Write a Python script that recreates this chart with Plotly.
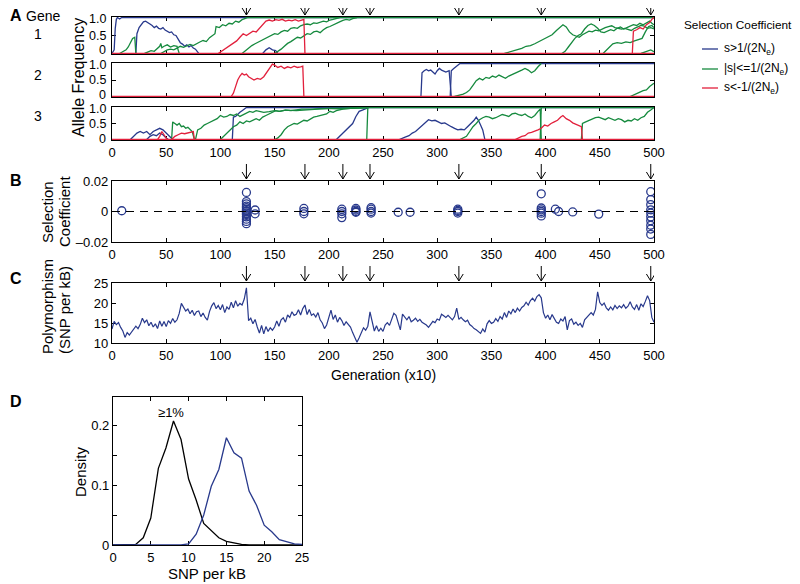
import plotly.graph_objects as go

# colours / fonts
BLUE = 'rgb(40,57,140)'
GREEN = 'rgb(22,138,62)'
RED = 'rgb(226,32,60)'
FONT = 'Liberation Sans, Arial, sans-serif'
# the page body keeps its default 8px margin, so the figure is drawn 8px smaller
# and all positions below are given in window pixels
OFF = 8
W, H = 800 - OFF, 584 - OFF

# ---- panel A: allele frequency trajectories, (generation, frequency) pairs ----
gene1_blue = [
    [(0, 0), (2, 0.1), (3, 0.7), (4, 0.95), (5, 1.0), (7, 0.96), (9, 1.0), (500, 1.0)],
    [(22, 0), (23, 0.55), (25, 0.72), (27, 0.8), (29, 0.88), (31, 0.9), (33, 0.85), (35, 0.82),
     (37, 0.78), (39, 0.72), (41, 0.76), (43, 0.7), (45, 0.68), (47, 0.72), (49, 0.65), (51, 0.62),
     (53, 0.58), (55, 0.6), (57, 0.52), (59, 0.5), (61, 0.4), (63, 0.3), (65, 0.26), (67, 0.2),
     (69, 0.24), (71, 0.18), (73, 0.22), (75, 0.15), (77, 0.12), (79, 0.05), (80, 0)],
    [(139, 0), (142, 0.1), (145, 0.16), (148, 0.1), (151, 0.08), (153, 0)],
]
gene1_green = [
    [(7, 0), (9, 0.03), (11, 0.06), (13, 0.1), (15, 0.18), (17, 0.32), (19, 0.42), (21, 0.45), (22, 0)],
    [(30, 0), (33, 0.05), (36, 0.08), (39, 0.06), (42, 0.15), (44, 0.2), (45, 0.28), (46, 0.16),
     (48, 0.2), (51, 0.24), (54, 0.18), (57, 0.22), (60, 0.2), (62, 0)],
    [(45, 0), (48, 0.06), (51, 0.1), (54, 0.12), (57, 0.1), (60, 0.15), (63, 0.2), (66, 0.17),
     (69, 0.22), (72, 0.25), (75, 0.22), (78, 0.28), (81, 0.32), (84, 0.36), (87, 0.33), (90, 0.44),
     (93, 0.5), (95, 0.55), (96, 0.75), (99, 0.72), (102, 0.8), (105, 0.77), (108, 0.84), (111, 0.82),
     (114, 0.9), (117, 0.87), (120, 0.94), (123, 0.97), (125, 1.0), (500, 1.0)],
    [(120, 0), (123, 0.08), (126, 0.15), (129, 0.22), (132, 0.27), (135, 0.32), (138, 0.36),
     (141, 0.42), (144, 0.46), (147, 0.52), (150, 0.55), (153, 0.53), (156, 0.6), (159, 0.64),
     (162, 0.62), (165, 0.7), (168, 0.72), (171, 0.7), (174, 0.77), (177, 0.8), (180, 0.82),
     (183, 0.8), (186, 0.85), (189, 0.84), (192, 0.88), (195, 0.9), (198, 0.88), (201, 0.93),
     (204, 0.95), (207, 0.97), (210, 1.0)],
    [(150, 0), (153, 0.05), (156, 0.12), (159, 0.2), (162, 0.28), (165, 0.33), (168, 0.4),
     (171, 0.45), (174, 0.43), (177, 0.5), (180, 0.55), (183, 0.53), (186, 0.6), (189, 0.62),
     (192, 0.58), (195, 0.66), (198, 0.72), (201, 0.75), (204, 0.8), (207, 0.84), (210, 0.88),
     (213, 0.92), (216, 0.95), (219, 0.93), (222, 0.97), (226, 1.0)],
    [(362, 0), (366, 0.03), (370, 0.06), (374, 0.1), (378, 0.14), (382, 0.2), (386, 0.22),
     (390, 0.27), (394, 0.33), (398, 0.4), (402, 0.46), (406, 0.52), (410, 0.64), (413, 0.72),
     (416, 0.8), (419, 0.74), (422, 0.6), (425, 0.52), (428, 0.48), (431, 0.45), (434, 0.52),
     (437, 0.58), (440, 0.62), (443, 0.6), (446, 0.65), (449, 0.63), (452, 0.68), (455, 0.72),
     (458, 0.75), (461, 0.77), (464, 0.72), (467, 0.7), (470, 0.68), (473, 0.7), (476, 0.66),
     (479, 0.64), (482, 0.7), (485, 0.73), (488, 0.78), (491, 0.76), (494, 0.7), (497, 0.72),
     (500, 0.68)],
    [(415, 0), (418, 0.06), (421, 0.18), (424, 0.3), (427, 0.42), (430, 0.5), (433, 0.55),
     (436, 0.68), (439, 0.78), (442, 0.82), (445, 0.78), (448, 0.7), (451, 0.6), (454, 0.58),
     (457, 0.62), (460, 0.66), (463, 0.63), (466, 0.7), (469, 0.74), (472, 0.68), (475, 0.72),
     (478, 0.76), (481, 0.8), (484, 0.78), (487, 0.84), (490, 0.8), (493, 0.86), (496, 0.9),
     (498, 0.84), (500, 0.8)],
    [(453, 0), (456, 0.1), (459, 0.2), (462, 0.27), (466, 0.3), (470, 0.28), (474, 0.32),
     (478, 0.3), (482, 0.35), (486, 0.38), (489, 0.42), (492, 0.6), (495, 0.75), (498, 0.78),
     (500, 0.72)],
    [(488, 0), (491, 0.04), (494, 0.06), (497, 0.1), (500, 0.05)],
]
gene1_red = [
    [(98, 0), (100, 0.04), (103, 0.12), (106, 0.18), (109, 0.24), (112, 0.3), (115, 0.35),
     (118, 0.45), (121, 0.55), (124, 0.5), (127, 0.56), (130, 0.62), (133, 0.6), (136, 0.7),
     (139, 0.78), (142, 0.9), (145, 0.93), (148, 0.9), (151, 0.94), (154, 0.92), (157, 0.95),
     (160, 0.9), (163, 0.93), (166, 0.91), (169, 0.94), (172, 0.9), (175, 0.93), (177, 0.95),
     (178, 0)],
    [(480, 0), (481, 0.62), (484, 0.66), (487, 0.72), (490, 0.68), (493, 0.8), (496, 0.86),
     (498, 0.95), (500, 1.0)],
    [(0, 0), (500, 0)],
]

gene2_blue = [
    [(285, 0), (286, 0.72), (288, 0.78), (290, 0.82), (292, 0.78), (294, 0.8), (296, 0.74),
     (298, 0.68), (300, 0.78), (302, 0.85), (304, 0.8), (306, 0.78), (308, 0.74), (311, 0.78),
     (313, 0)],
    [(312, 0), (313, 0.78), (315, 0.84), (317, 0.9), (319, 0.95), (321, 1.0), (500, 1.0)],
]
gene2_green = [
    [(316, 0), (320, 0.03), (324, 0.07), (327, 0.12), (330, 0.2), (333, 0.34), (336, 0.48),
     (339, 0.55), (342, 0.5), (345, 0.58), (348, 0.55), (351, 0.62), (354, 0.58), (357, 0.65),
     (360, 0.6), (363, 0.55), (366, 0.62), (369, 0.66), (372, 0.7), (375, 0.75), (378, 0.8),
     (381, 0.85), (384, 0.8), (387, 0.72), (390, 0.78), (393, 0.9), (396, 1.0)],
    [(478, 0), (482, 0.05), (486, 0.12), (490, 0.18), (493, 0.2), (496, 0.3), (499, 0.38),
     (500, 0.4)],
]
gene2_red = [
    [(110, 0), (112, 0.1), (114, 0.3), (116, 0.5), (118, 0.62), (120, 0.7), (122, 0.65),
     (124, 0.68), (126, 0.6), (128, 0.55), (131, 0.5), (134, 0.55), (137, 0.52), (140, 0.6),
     (143, 0.75), (146, 0.9), (148, 0.98), (150, 0.95), (153, 0.88), (156, 0.92), (159, 0.85),
     (162, 0.9), (165, 0.87), (168, 0.92), (171, 0.88), (174, 0.9), (176, 0.92), (177, 0)],
    [(0, 0), (500, 0)],
]

gene3_blue = [
    [(17, 0), (20, 0.1), (23, 0.2), (26, 0.25), (29, 0.2), (32, 0.25), (35, 0.15), (38, 0.25),
     (41, 0.3), (44, 0.35), (47, 0.3), (50, 0.2), (53, 0.1), (56, 0)],
    [(32, 0), (35, 0.1), (38, 0.15), (41, 0.12), (44, 0.2), (47, 0.15), (50, 0.05), (52, 0)],
    [(111, 0), (112, 0.7), (114, 0.72), (116, 0.8), (118, 0.85), (120, 0.9), (122, 0.95),
     (124, 1.0), (500, 1.0)],
    [(207, 0), (210, 0.1), (213, 0.2), (216, 0.3), (219, 0.42), (222, 0.5), (225, 0.72),
     (228, 0.88), (231, 0.92), (234, 0.96), (237, 1.0)],
    [(265, 0), (268, 0.05), (271, 0.08), (274, 0.12), (277, 0.2), (280, 0.25), (283, 0.35),
     (286, 0.45), (289, 0.55), (292, 0.62), (295, 0.58), (298, 0.6), (301, 0.55), (304, 0.5),
     (307, 0.52), (310, 0.45), (313, 0.4), (316, 0.35), (319, 0.3), (322, 0.32), (325, 0.3),
     (328, 0.4), (331, 0.5), (334, 0.6), (336, 0.7), (338, 0.6), (340, 0.45), (342, 0.3), (344, 0)],
]
gene3_green = [
    [(55, 0), (56, 0.55), (58, 0.5), (60, 0.45), (62, 0.5), (64, 0.4), (66, 0.42), (68, 0.35),
     (70, 0.38), (72, 0.3), (74, 0.25), (76, 0)],
    [(77, 0), (79, 0.3), (82, 0.35), (85, 0.45), (88, 0.5), (91, 0.55), (94, 0.6), (97, 0.65),
     (100, 0.75), (103, 0.7), (106, 0.72), (109, 0.78), (112, 0.75), (115, 0.8), (118, 0.72),
     (121, 0.78), (124, 0.82), (127, 0.88), (130, 0.85), (133, 0.9), (136, 0.88), (140, 0.85),
     (145, 0.87), (150, 0.9), (155, 0.88), (160, 0.92), (165, 0.9), (170, 0.93), (175, 0.95),
     (185, 0.95), (195, 0.97), (210, 0.96), (225, 0.98), (235, 0.98), (236, 1.0)],
    [(100, 0), (103, 0.1), (106, 0.2), (109, 0.3), (112, 0.4), (115, 0.45), (118, 0.55),
     (121, 0.5), (124, 0.58), (127, 0.55), (130, 0.6), (133, 0.65), (136, 0.6), (139, 0.7),
     (142, 0.75), (145, 0.8), (148, 0.85), (151, 0.9), (154, 0.88), (160, 0.92), (170, 0.9),
     (185, 0.94), (200, 0.97), (215, 0.98), (236, 1.0)],
    [(150, 0), (153, 0.05), (156, 0.15), (159, 0.3), (162, 0.4), (165, 0.45), (168, 0.5),
     (171, 0.48), (174, 0.55), (177, 0.6), (180, 0.58), (183, 0.65), (186, 0.7), (189, 0.72),
     (192, 0.75), (195, 0.78), (198, 0.8), (201, 0.88), (204, 0.85), (207, 0.9), (210, 0.92),
     (213, 0.95), (220, 0.97), (236, 1.0)],
    [(235, 0), (236, 1.0), (500, 1.0)],
    [(321, 0), (324, 0.05), (327, 0.1), (330, 0.25), (333, 0.4), (336, 0.5), (339, 0.62),
     (342, 0.68), (345, 0.72), (348, 0.7), (351, 0.65), (354, 0.68), (357, 0.72), (360, 0.78),
     (363, 0.75), (366, 0.72), (369, 0.8), (372, 0.82), (375, 0.78), (378, 0.75), (381, 0.8),
     (384, 0.72), (387, 0.68), (390, 0.75), (393, 0.88), (395, 0.95), (396, 0)],
    [(395, 0), (396, 1.0)],
    [(433, 0), (434, 0.5), (437, 0.55), (440, 0.6), (443, 0.65), (446, 0.68), (449, 0.7),
     (452, 0.65), (455, 0.62), (458, 0.68), (461, 0.65), (464, 0.6), (467, 0.65), (470, 0.62),
     (473, 0.55), (476, 0.6), (479, 0.58), (482, 0.65), (485, 0.6), (488, 0.68), (491, 0.72),
     (494, 0.85), (497, 0.92), (500, 1.0)],
]
gene3_red = [
    [(42, 0), (44, 0.1), (46, 0.25), (48, 0.15), (50, 0.05), (51, 0)],
    [(55, 0), (58, 0.1), (61, 0.15), (64, 0.2), (67, 0.18), (70, 0.2), (73, 0.22), (75, 0.25),
     (76, 0)],
    [(372, 0), (375, 0.05), (378, 0.1), (381, 0.12), (384, 0.2), (387, 0.22), (390, 0.25),
     (393, 0.3), (396, 0.35), (399, 0.45), (402, 0.42), (405, 0.5), (408, 0.55), (411, 0.6),
     (414, 0.7), (416, 0.75), (419, 0.65), (422, 0.6), (425, 0.52), (428, 0.48), (431, 0.45),
     (433, 0.4), (434, 0)],
    [(0, 0), (500, 0)],
]
freq_ticks = [0, 0.5, 1]
freq_labels = ['0', '0.5', '1.0']

# sweep arrows (generation)
arrow_gens = [124, 178, 213, 238, 320, 396, 497]

# ---- panel B: selection coefficients of fixed mutations ----
sel_gen = [9,
           124, 124, 124, 124, 124, 124, 124, 124, 124, 124, 124, 124, 124, 124,
           132, 132, 177, 177, 177, 212, 212, 212, 212, 225, 225, 225, 225,
           239, 239, 239, 239, 264, 275, 319, 319, 319, 319,
           396, 396, 396, 396, 396, 396, 409, 412, 425, 449,
           497, 497, 497, 497, 497, 497, 497, 497, 497, 497]
sel_coef = [0.0005,
            0.0125, 0.0065, 0.005, 0.0035, 0.0025, 0.0015, 0.0005, 0.0, -0.001, -0.002, -0.0035,
            -0.005, -0.0065, -0.008,
            0.001, -0.0015, 0.002, 0.0, -0.0015, 0.0015, 0.0, -0.0015, -0.004, 0.002, 0.001, 0.0,
            -0.0005, 0.0025, 0.0015, 0.0, -0.001, -0.0005, -0.0005, 0.0015, 0.0007, 0.0, -0.001,
            0.0116, 0.0023, 0.0011, 0.0, -0.0011, -0.0029, 0.0015, 0.0, -0.0003, -0.0017,
            0.013, 0.0078, 0.0045, 0.0011, -0.001, -0.0035, -0.006, -0.009, -0.0115, -0.015]

# ---- panel C: polymorphism (SNP per kB) every 2 generations (x10) ----
poly_gen = list(range(0, 501, 2))
poly_snp = [
    13.5, 15.4, 14.6, 15.1, 13.9, 13.0, 11.4, 12.6, 12.0, 12.8,
    13.3, 14.2, 13.6, 14.6, 16.2, 15.1, 15.8, 14.3, 15.2, 14.0,
    14.8, 13.6, 15.5, 14.2, 15.4, 14.1, 15.6, 14.9, 16.1, 15.2,
    15.8, 17.4, 19.9, 18.8, 18.0, 18.5, 17.3, 18.2, 16.9, 17.8,
    18.0, 16.6, 17.5, 16.4, 15.7, 17.9, 19.3, 20.1, 18.6, 19.4,
    18.3, 19.6, 17.6, 19.0, 18.4, 20.2, 18.8, 20.6, 19.2, 19.9,
    19.5, 21.0, 23.8, 15.6, 16.2, 14.8, 15.9, 14.0, 12.5, 14.4,
    12.3, 14.1, 12.9, 13.8, 13.2, 14.0, 15.5, 14.2, 15.8, 16.3,
    15.2, 17.0, 16.4, 17.8, 16.9, 17.2, 18.3, 17.0, 18.6, 19.5,
    17.1, 18.4, 16.9, 17.3, 16.5, 17.6, 15.8, 15.0, 13.6, 14.5,
    16.5, 18.2, 15.9, 17.0, 15.2, 16.4, 15.6, 14.4, 15.3, 14.5,
    14.0, 12.6, 11.4, 10.2, 11.3, 12.5, 13.8, 13.2, 14.2, 17.8,
    15.4, 13.0, 14.3, 12.9, 13.7, 12.9, 14.5, 15.1, 14.4, 16.2,
    17.4, 16.9, 14.8, 13.3, 17.2, 16.5, 15.8, 16.6, 15.3, 15.7,
    16.2, 15.4, 15.9, 15.2, 14.9, 14.5, 13.9, 14.7, 15.4, 15.1,
    16.0, 15.7, 17.2, 16.8, 16.4, 16.9, 16.2, 15.8, 16.6, 18.7,
    15.9, 16.4, 15.8, 15.3, 15.7, 14.6, 14.2, 13.6, 13.3, 12.9,
    12.4, 13.5, 12.7, 14.8, 15.6, 14.9, 15.2, 16.1, 15.4, 16.6,
    16.0, 17.6, 16.4, 18.0, 17.3, 18.5, 17.6, 18.7, 18.0, 18.9,
    19.3, 20.2, 19.5, 20.6, 21.2, 20.5, 21.6, 22.1, 21.3, 17.6,
    16.2, 17.0, 15.8, 17.1, 16.3, 15.2, 14.9, 16.0, 15.5, 16.6,
    13.3, 15.6, 16.0, 14.7, 15.2, 14.4, 14.9, 13.9, 15.8, 16.4,
    16.9, 17.6, 17.0, 18.4, 22.8, 20.1, 19.4, 20.0, 18.8, 18.2,
    19.0, 18.3, 19.4, 18.6, 19.3, 18.8, 19.6, 18.7, 19.2, 20.3,
    19.0, 18.4, 19.6, 18.2, 19.8, 19.1, 20.4, 21.8, 20.6, 16.4,
    15.2,
]

# ---- panel D: density of SNP per kB ----
dens_x = list(range(0, 26))
dens_common = [0, 0, 0, 0.001, 0.012, 0.045, 0.128, 0.162, 0.207, 0.176, 0.11, 0.075, 0.036,
               0.024, 0.012, 0.006, 0.003, 0.001, 0, 0, 0, 0, 0, 0, 0, 0]
dens_all = [0, 0, 0, 0, 0, 0, 0, 0, 0, 0, 0.002, 0.018, 0.05, 0.098, 0.126, 0.179, 0.154,
            0.145, 0.09, 0.066, 0.033, 0.022, 0.009, 0.005, 0.002, 0.001]


def pxx(x):
    return (x - OFF) / W


def pyy(y):
    return 1 - (y - OFF) / H


def add_paths(fig, paths, color, n):
    for path in paths:
        fig.add_trace(go.Scatter(x=[p[0] for p in path], y=[p[1] for p in path], mode='lines',
                                 xaxis='x%d' % n if n > 1 else 'x',
                                 yaxis='y%d' % n if n > 1 else 'y',
                                 line=dict(color=color, width=1.3),
                                 showlegend=False, hoverinfo='skip'))


def axis(dom, anchor, **kw):
    d = dict(domain=dom, anchor=anchor, showline=True, linecolor='black', linewidth=1.2,
             mirror='ticks', ticks='inside', ticklen=4, tickcolor='black', tickwidth=1,
             showgrid=False, zeroline=False, layer='below traces', automargin=False,
             tickfont=dict(family=FONT, size=13, color='black'))
    d.update(kw)
    return d


fig = go.Figure()

genes = [(gene1_blue, gene1_green, gene1_red),
         (gene2_blue, gene2_green, gene2_red),
         (gene3_blue, gene3_green, gene3_red)]
for i, (b, g, r) in enumerate(genes):
    add_paths(fig, b, BLUE, i + 1)
    add_paths(fig, g, GREEN, i + 1)
    add_paths(fig, r, RED, i + 1)

fig.add_trace(go.Scatter(x=sel_gen, y=sel_coef, mode='markers', xaxis='x4', yaxis='y4',
                         marker=dict(symbol='circle-open', size=8, color=BLUE,
                                     line=dict(width=1.3, color=BLUE)),
                         showlegend=False, hoverinfo='skip'))
fig.add_trace(go.Scatter(x=poly_gen, y=poly_snp, mode='lines', xaxis='x5', yaxis='y5',
                         line=dict(color=BLUE, width=1.2), showlegend=False, hoverinfo='skip'))
fig.add_trace(go.Scatter(x=dens_x, y=dens_common, mode='lines', xaxis='x6', yaxis='y6',
                         line=dict(color='black', width=1.3), showlegend=False, hoverinfo='skip'))
fig.add_trace(go.Scatter(x=dens_x, y=dens_all, mode='lines', xaxis='x6', yaxis='y6',
                         line=dict(color=BLUE, width=1.3), showlegend=False, hoverinfo='skip'))

xdom = [pxx(112), pxx(654)]
gen_ticks = list(range(0, 501, 50))
gene_rows = [(17, 54), (63, 97), (107, 140)]
# where the frequency tick labels sit (window pixels), squeezed like the original
gene_label_y = [(50.5, 35.5, 19), (95, 80, 65), (139, 124, 109)]
lay = {}
for i, (top, bot) in enumerate(gene_rows):
    n = '' if i == 0 else str(i + 1)
    lay['xaxis' + n] = axis(xdom, 'y' + n, range=[0, 500], tickvals=gen_ticks,
                            showticklabels=(i == 2))
    lay['yaxis' + n] = axis([pyy(bot), pyy(top)], 'x' + n, range=[-0.015, 1.015],
                            tickvals=freq_ticks, showticklabels=False)
lay['xaxis4'] = axis(xdom, 'y4', range=[0, 500], tickvals=gen_ticks)
lay['yaxis4'] = axis([pyy(242), pyy(181)], 'x4', range=[-0.02, 0.02],
                     tickvals=[-0.02, 0, 0.02], ticktext=['\u20130.02', '0', '0.02'])
lay['xaxis5'] = axis(xdom, 'y5', range=[0, 500], tickvals=gen_ticks)
lay['yaxis5'] = axis([pyy(343), pyy(283)], 'x5', range=[10, 25], tickvals=[10, 15, 20, 25])
lay['xaxis6'] = axis([pxx(113), pxx(302)], 'y6', range=[0, 25], tickvals=[0, 5, 10, 15, 20, 25])
lay['yaxis6'] = axis([pyy(545), pyy(397)], 'x6', range=[0, 0.247],
                     tickvals=[0, 0.05, 0.1, 0.15, 0.2], ticktext=['0', ' ', '0.1', ' ', '0.2'])

shapes = []
# zero line in B
shapes.append(dict(type='line', xref='x4 domain', yref='y4', x0=0, x1=1, y0=0, y1=0,
                   line=dict(color='black', width=1.2, dash='8px,6px')))
# sweep arrows above A, B and C
for tip, tail in [(15, 1), (179, 164), (281, 266)]:
    for g in arrow_gens:
        shapes.append(dict(type='path', xref='x', yref='paper',
                           path='M %g,%f L %g,%f M %g,%f L %g,%f L %g,%f' % (
                               g, pyy(max(tail, OFF)), g, pyy(tip), g - 4, pyy(tip - 7), g,
                               pyy(tip), g + 4, pyy(tip - 7)),
                           line=dict(color='black', width=1)))
# legend keys
for yk, col in [(49, BLUE), (69, GREEN), (88, RED)]:
    shapes.append(dict(type='line', xref='paper', yref='paper', x0=pxx(702), x1=pxx(718),
                       y0=pyy(yk), y1=pyy(yk), line=dict(color=col, width=1.3)))


def txt(x, y, s, size=13, angle=0, xanchor='center', bold=False):
    return dict(x=pxx(x), y=pyy(y), xref='paper', yref='paper', text='<b>%s</b>' % s if bold else s,
                showarrow=False, xanchor=xanchor, yanchor='middle', textangle=angle,
                font=dict(family=FONT, size=size, color='black'))


annotations = [
    txt(8, 16, 'A', 16, xanchor='left', bold=True),
    txt(24, 16, 'Gene', 14, xanchor='left'),
    txt(38, 34, '1', 14), txt(38, 75, '2', 14), txt(38, 116, '3', 14),
    txt(78, 78, 'Allele Frequency', 16, angle=-90),
    txt(738, 25, 'Selection Coefficient', 11.8),
    txt(722, 49, 's&gt;1/(2N<sub>e</sub>)', 12, xanchor='left'),
    txt(722, 69, '|s|&lt;=1/(2N<sub>e</sub>)', 12, xanchor='left'),
    txt(722, 88, 's&lt;-1/(2N<sub>e</sub>)', 12, xanchor='left'),
    txt(8, 180, 'B', 16, xanchor='left', bold=True),
    txt(47, 212, 'Selection', 15, angle=-90),
    txt(64, 212, 'Coefficient', 15, angle=-90),
    txt(8, 278, 'C', 16, xanchor='left', bold=True),
    txt(47, 307, 'Polymorphism', 15, angle=-90),
    txt(64, 310, '(SNP per kB)', 15, angle=-90),
    txt(383, 375, 'Generation (x10)', 14),
    txt(8, 401, 'D', 16, xanchor='left', bold=True),
    txt(80, 472, 'Density', 15, angle=-90),
    txt(207, 573, 'SNP per kB', 15),
    txt(171, 412, '&#8805;1%', 13),
]
for ys in gene_label_y:
    for yl, lab in zip(ys, freq_labels):
        annotations.append(txt(108, yl, lab, 12.5, xanchor='right'))

fig.update_layout(width=W, height=H, autosize=False, margin=dict(l=0, r=0, t=0, b=0, pad=0),
                  paper_bgcolor='white', plot_bgcolor='white', showlegend=False,
                  shapes=shapes, annotations=annotations, **lay)

fig.write_html("out.html")
